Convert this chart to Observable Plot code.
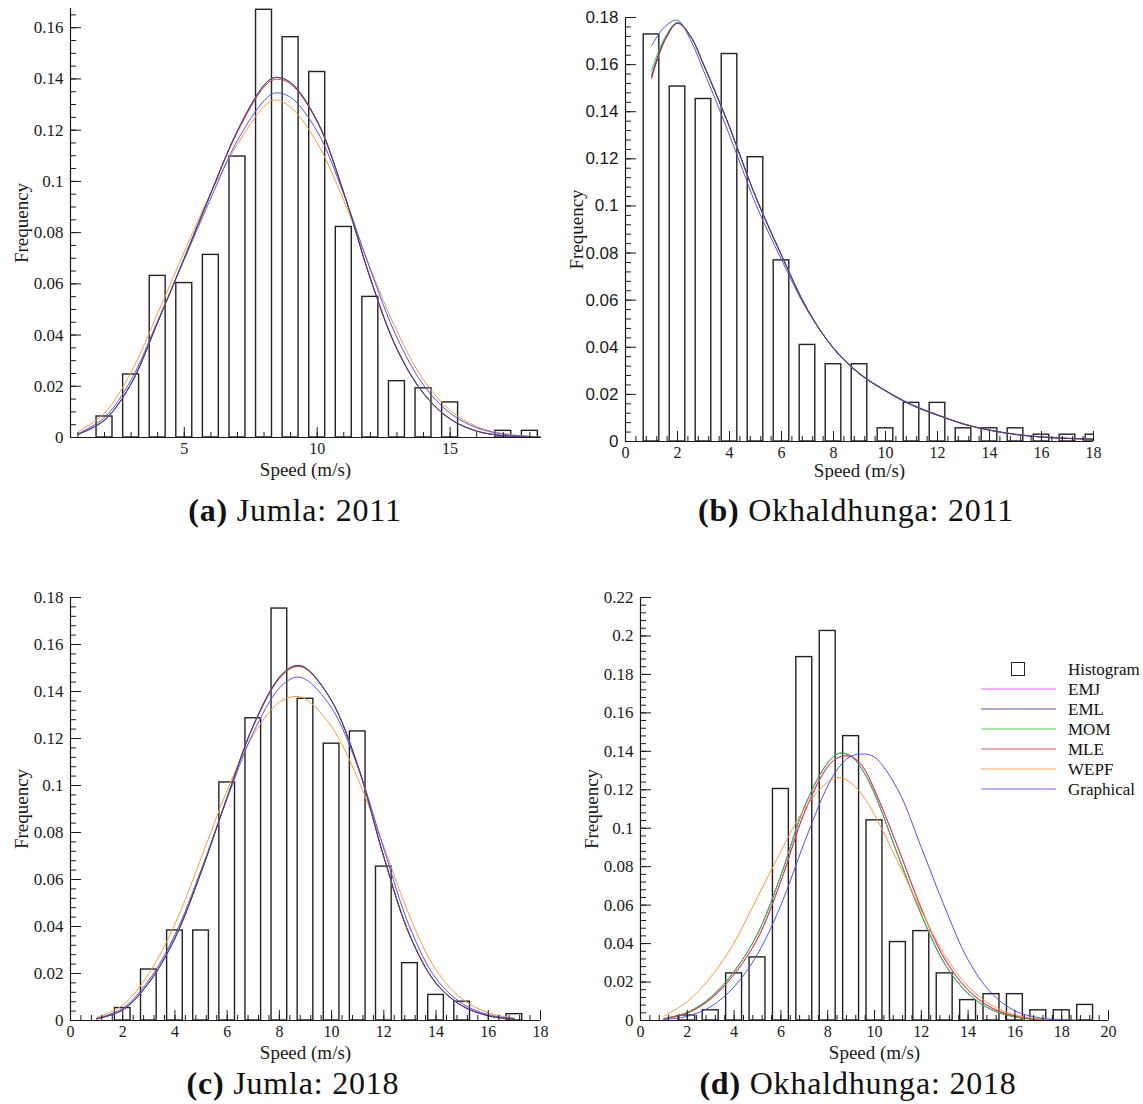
<!DOCTYPE html>
<html>
<head>
<meta charset="utf-8">
<script src="https://cdn.jsdelivr.net/npm/d3@7"></script>
<script src="https://cdn.jsdelivr.net/npm/@observablehq/plot@0.6"></script>
<style>
  html, body { margin: 0; padding: 0; background: #fff; }
  #fig { position: relative; width: 1143px; height: 1104px; overflow: hidden; font-family: "Liberation Serif", serif; color: #111; }
  .panel { position: absolute; }
  .cap { position: absolute; font-size: 32px; letter-spacing: 0.8px; white-space: nowrap; transform: translate(-50%, -50%); line-height: 1; }
  .leg { position: absolute; font-size: 17px; line-height: 1; white-space: nowrap; transform: translateY(-50%); }
  .legline { position: absolute; height: 1px; width: 75px; transform: translateY(-50%); opacity: 0.85; }
  .legbox { position: absolute; width: 12px; height: 12px; border: 1.5px solid #222; }
</style>
</head>
<body>
<div id="fig"></div>
<script>
// ---------- series / legend ----------
const methods = ["EMJ", "EML", "MOM", "MLE", "WEPF", "Graphical"];
const methodColors = ["#ff44ff", "#3c3c96", "#3ccc3c", "#e03a3a", "#ff9a3c", "#5050ff"];

// ---------- (a) Jumla: 2011 ----------
const aSpeed = [2, 3, 4, 5, 6, 7, 8, 9, 10, 11, 12, 13, 14, 15, 17, 18];
const aFreq = [0.0082, 0.0246, 0.0631, 0.0603, 0.0713, 0.1097, 0.1670, 0.1563, 0.1427, 0.0822, 0.0549, 0.0220, 0.0192, 0.0137, 0.0026, 0.0026];
const aCurveX = [1, 2, 3, 4, 5, 6, 7, 8, 8.4, 9, 10, 11, 12, 13, 14, 15, 16, 17, 18, 18.4];
const aEMJ = [0.0012, 0.0068, 0.0210, 0.0450, 0.0700, 0.0955, 0.1198, 0.1375, 0.1405, 0.1385, 0.1235, 0.0955, 0.0620, 0.0345, 0.0172, 0.0072, 0.0025, 0.0007, 0.0002, 0.0001];
const aEML = [0.0012, 0.0068, 0.0210, 0.0450, 0.0700, 0.0955, 0.1198, 0.1376, 0.1406, 0.1386, 0.1236, 0.0956, 0.0620, 0.0345, 0.0172, 0.0072, 0.0025, 0.0007, 0.0002, 0.0001];
const aMOM = [0.0012, 0.0068, 0.0210, 0.0450, 0.0700, 0.0955, 0.1198, 0.1375, 0.1405, 0.1385, 0.1235, 0.0955, 0.0620, 0.0345, 0.0172, 0.0072, 0.0025, 0.0007, 0.0002, 0.0001];
const aMLE = [0.0012, 0.0068, 0.0210, 0.0450, 0.0700, 0.0953, 0.1193, 0.1368, 0.1398, 0.1380, 0.1232, 0.0955, 0.0622, 0.0347, 0.0173, 0.0073, 0.0025, 0.0007, 0.0002, 0.0001];
const aWEPF = [0.0022, 0.0095, 0.0255, 0.0485, 0.0725, 0.0955, 0.1145, 0.1292, 0.1318, 0.1290, 0.1150, 0.0925, 0.0660, 0.0415, 0.0225, 0.0106, 0.0043, 0.0015, 0.0005, 0.0002];
const aGraphical = [0.0015, 0.0078, 0.0225, 0.0455, 0.0695, 0.0935, 0.1160, 0.1315, 0.1345, 0.1328, 0.1195, 0.0950, 0.0655, 0.0390, 0.0205, 0.0095, 0.0038, 0.0013, 0.0004, 0.0002];
const aXTicks = [5, 10, 15];
const aYTicks = [0, 0.02, 0.04, 0.06, 0.08, 0.1, 0.12, 0.14, 0.16];

// ---------- (b) Okhaldhunga: 2011 ----------
const bSpeed = [1, 2, 3, 4, 5, 6, 7, 8, 9, 10, 11, 12, 13, 14, 15, 16, 17, 18];
const bFreq = [0.1728, 0.1507, 0.1454, 0.1645, 0.1207, 0.0769, 0.0410, 0.0328, 0.0328, 0.0056, 0.0164, 0.0164, 0.0056, 0.0056, 0.0056, 0.0029, 0.0029, 0.0029];
const bCurveX = [1, 1.5, 2, 2.5, 3, 3.5, 4, 4.5, 5, 6, 7, 8, 9, 10, 11, 12, 13, 14, 15, 16, 17, 18];
const bEMJ = [0.1548, 0.1702, 0.1776, 0.1720, 0.1600, 0.1470, 0.1335, 0.1185, 0.1040, 0.0790, 0.0560, 0.0395, 0.0287, 0.0215, 0.0155, 0.0112, 0.0074, 0.0048, 0.0030, 0.0019, 0.0013, 0.0010];
const bEML = [0.1552, 0.1703, 0.1777, 0.1721, 0.1601, 0.1471, 0.1336, 0.1186, 0.1041, 0.0791, 0.0560, 0.0395, 0.0287, 0.0215, 0.0155, 0.0112, 0.0074, 0.0048, 0.0030, 0.0019, 0.0013, 0.0010];
const bMOM = [0.1575, 0.1712, 0.1779, 0.1722, 0.1603, 0.1472, 0.1337, 0.1188, 0.1042, 0.0792, 0.0561, 0.0396, 0.0288, 0.0215, 0.0155, 0.0112, 0.0074, 0.0048, 0.0030, 0.0019, 0.0013, 0.0010];
const bMLE = [0.1543, 0.1700, 0.1776, 0.1720, 0.1600, 0.1470, 0.1335, 0.1185, 0.1040, 0.0790, 0.0560, 0.0395, 0.0287, 0.0215, 0.0155, 0.0112, 0.0074, 0.0048, 0.0030, 0.0019, 0.0013, 0.0010];
const bWEPF = [0.1540, 0.1698, 0.1775, 0.1719, 0.1600, 0.1470, 0.1335, 0.1185, 0.1040, 0.0790, 0.0560, 0.0395, 0.0287, 0.0215, 0.0155, 0.0112, 0.0074, 0.0048, 0.0030, 0.0019, 0.0013, 0.0010];
const bGraphical = [0.1680, 0.1760, 0.1788, 0.1705, 0.1575, 0.1440, 0.1300, 0.1155, 0.1010, 0.0772, 0.0555, 0.0398, 0.0290, 0.0217, 0.0158, 0.0114, 0.0075, 0.0049, 0.0031, 0.0020, 0.0014, 0.0010];
const bXTicks = [0, 2, 4, 6, 8, 10, 12, 14, 16, 18];
const bYTicks = [0, 0.02, 0.04, 0.06, 0.08, 0.1, 0.12, 0.14, 0.16, 0.18];

// ---------- (c) Jumla: 2018 ----------
const cSpeed = [2, 3, 4, 5, 6, 7, 8, 9, 10, 11, 12, 13, 14, 15, 17];
const cFreq = [0.0053, 0.0217, 0.0383, 0.0383, 0.1013, 0.1286, 0.1753, 0.1369, 0.1178, 0.1230, 0.0655, 0.0244, 0.0109, 0.0080, 0.0027];
const cCurveX = [1, 2, 3, 4, 5, 6, 7, 8, 8.6, 9, 10, 11, 12, 13, 14, 15, 16, 17];
const cEMJ = [0.0007, 0.0045, 0.0160, 0.0350, 0.0630, 0.0950, 0.1255, 0.1460, 0.1509, 0.1500, 0.1360, 0.1085, 0.0695, 0.0360, 0.0158, 0.0062, 0.0020, 0.0005];
const cEML = [0.0007, 0.0045, 0.0160, 0.0350, 0.0630, 0.0950, 0.1255, 0.1461, 0.1510, 0.1501, 0.1361, 0.1085, 0.0695, 0.0360, 0.0158, 0.0062, 0.0020, 0.0005];
const cMOM = [0.0007, 0.0045, 0.0160, 0.0350, 0.0630, 0.0950, 0.1255, 0.1460, 0.1509, 0.1500, 0.1360, 0.1085, 0.0695, 0.0360, 0.0158, 0.0062, 0.0020, 0.0005];
const cMLE = [0.0007, 0.0046, 0.0162, 0.0352, 0.0632, 0.0950, 0.1252, 0.1455, 0.1505, 0.1497, 0.1360, 0.1087, 0.0698, 0.0362, 0.0160, 0.0063, 0.0020, 0.0005];
const cWEPF = [0.0013, 0.0065, 0.0200, 0.0410, 0.0690, 0.0980, 0.1215, 0.1355, 0.1379, 0.1368, 0.1250, 0.1030, 0.0740, 0.0440, 0.0215, 0.0092, 0.0033, 0.0010];
const cGraphical = [0.0009, 0.0052, 0.0172, 0.0365, 0.0640, 0.0945, 0.1225, 0.1415, 0.1460, 0.1452, 0.1330, 0.1080, 0.0730, 0.0395, 0.0178, 0.0072, 0.0025, 0.0008];
const cXTicks = [0, 2, 4, 6, 8, 10, 12, 14, 16, 18];
const cYTicks = [0, 0.02, 0.04, 0.06, 0.08, 0.1, 0.12, 0.14, 0.16, 0.18];

// ---------- (d) Okhaldhunga: 2018 ----------
const dSpeed = [2, 3, 4, 5, 6, 7, 8, 9, 10, 11, 12, 13, 14, 15, 16, 17, 18, 19];
const dFreq = [0.0026, 0.0053, 0.0245, 0.0328, 0.1204, 0.1890, 0.2026, 0.1479, 0.1041, 0.0408, 0.0465, 0.0245, 0.0106, 0.0137, 0.0137, 0.0053, 0.0053, 0.0081];
const dCurveX = [1, 2, 3, 4, 5, 6, 7, 8, 8.5, 9, 9.5, 10, 11, 12, 13, 14, 15, 16, 17, 18, 19];
const dEMJ = [0.0009, 0.0038, 0.0112, 0.0240, 0.0425, 0.0725, 0.1080, 0.1320, 0.1370, 0.1373, 0.1320, 0.1200, 0.0900, 0.0582, 0.0320, 0.0158, 0.0066, 0.0023, 0.0007, 0.0002, 0.0000];
const dEML = [0.0010, 0.0042, 0.0120, 0.0255, 0.0450, 0.0755, 0.1110, 0.1340, 0.1390, 0.1375, 0.1300, 0.1180, 0.0860, 0.0550, 0.0295, 0.0140, 0.0056, 0.0019, 0.0005, 0.0001, 0.0000];
const dMOM = [0.0010, 0.0042, 0.0120, 0.0255, 0.0450, 0.0755, 0.1110, 0.1340, 0.1390, 0.1375, 0.1300, 0.1180, 0.0860, 0.0550, 0.0295, 0.0140, 0.0056, 0.0019, 0.0005, 0.0001, 0.0000];
const dMLE = [0.0009, 0.0038, 0.0112, 0.0240, 0.0425, 0.0725, 0.1080, 0.1320, 0.1370, 0.1373, 0.1320, 0.1200, 0.0900, 0.0582, 0.0320, 0.0158, 0.0066, 0.0023, 0.0007, 0.0002, 0.0000];
const dWEPF = [0.0022, 0.0098, 0.0225, 0.0405, 0.0640, 0.0880, 0.1100, 0.1240, 0.1264, 0.1235, 0.1170, 0.1070, 0.0825, 0.0570, 0.0340, 0.0178, 0.0080, 0.0029, 0.0009, 0.0002, 0.0000];
const dGraphical = [0.0005, 0.0022, 0.0072, 0.0175, 0.0345, 0.0600, 0.0925, 0.1220, 0.1320, 0.1375, 0.1386, 0.1370, 0.1200, 0.0900, 0.0590, 0.0315, 0.0142, 0.0050, 0.0015, 0.0003, 0.0000];
const dXTicks = [0, 2, 4, 6, 8, 10, 12, 14, 16, 18, 20];
const dYTicks = [0, 0.02, 0.04, 0.06, 0.08, 0.1, 0.12, 0.14, 0.16, 0.18, 0.2, 0.22];

const captions = [
  ["(a)", "Jumla: 2011"],
  ["(b)", "Okhaldhunga: 2011"],
  ["(c)", "Jumla: 2018"],
  ["(d)", "Okhaldhunga: 2018"]
];
const xLabel = "Speed (m/s)";
const yLabel = "Frequency";
const histLabel = "Histogram";

// draw order of the fitted curves (indices into methods)
const orderTop = [0, 4, 5, 2, 3, 1];
const orderD = [0, 1, 2, 3, 4, 5];

// ---------- layout ----------
const panels = [
  {left: 0, top: 0, width: 560, height: 480, ml: 70, mr: 20, mt: 8, mb: 43,
   xDomain: [0.72, 18.4], yDomain: [0, 0.1675], xMinor: d3.range(1, 18.01, 1), yMinorStep: 0.005,
   xTicks: aXTicks, yTicks: aYTicks, speed: aSpeed, freq: aFreq, bw: 0.6, order: orderTop,
   curveX: aCurveX, curves: [aEMJ, aEML, aMOM, aMLE, aWEPF, aGraphical], xlDy: 32, yFont: "Liberation Serif",
   cap: captions[0], capX: 295, capY: 510},
  {left: 560, top: 0, width: 583, height: 480, ml: 65, mr: 50, mt: 17, mb: 39,
   xDomain: [0, 18], yDomain: [0, 0.18], xMinor: d3.range(0, 18.01, 0.4), yMinorStep: 0.004,
   xTicks: bXTicks, yTicks: bYTicks, speed: bSpeed, freq: bFreq, bw: 0.6, order: orderTop,
   curveX: bCurveX, curves: [bEMJ, bEML, bMOM, bMLE, bWEPF, bGraphical], xlDy: 29, yFont: "Liberation Sans",
   cap: captions[1], capX: 856, capY: 510},
  {left: 0, top: 540, width: 580, height: 530, ml: 70, mr: 40, mt: 57, mb: 50,
   xDomain: [0, 18], yDomain: [0, 0.18], xMinor: d3.range(0, 18.01, 0.4), yMinorStep: 0.004,
   xTicks: cXTicks, yTicks: cYTicks, speed: cSpeed, freq: cFreq, bw: 0.6, order: orderTop,
   curveX: cCurveX, curves: [cEMJ, cEML, cMOM, cMLE, cWEPF, cGraphical], xlDy: 32, yFont: "Liberation Serif",
   cap: captions[2], capX: 293, capY: 1083},
  {left: 570, top: 540, width: 573, height: 530, ml: 70, mr: 35, mt: 57, mb: 50,
   xDomain: [0, 20], yDomain: [0, 0.22], xMinor: d3.range(0, 20.01, 0.4), yMinorStep: 0.004,
   xTicks: dXTicks, yTicks: dYTicks, speed: dSpeed, freq: dFreq, bw: 0.68, order: orderD,
   curveX: dCurveX, curves: [dEMJ, dEML, dMOM, dMLE, dWEPF, dGraphical], xlDy: 32, yFont: "Liberation Serif",
   cap: captions[3], capX: 858, capY: 1083}
];

const fig = document.getElementById("fig");
const ink = "#1a1a1a";

for (const p of panels) {
  const fw = p.width - p.ml - p.mr;
  const fh = p.height - p.mt - p.mb;
  const bars = p.speed.map((s, i) => ({x: s, y: p.freq[i]}));
  const yMinor = d3.range(0, p.yDomain[1] + 1e-9, p.yMinorStep);
  const lines = p.order.map(j =>
    Plot.line(p.curveX.map((x, i) => ({x, y: p.curves[j][i]})),
      {x: "x", y: "y", stroke: methodColors[j], strokeWidth: 1, curve: "catmull-rom"}));
  const chart = Plot.plot({
    width: p.width, height: p.height,
    marginLeft: p.ml, marginRight: p.mr, marginTop: p.mt, marginBottom: p.mb,
    style: {fontFamily: "Liberation Serif", fontSize: "16px", color: ink, background: "transparent"},
    x: {domain: p.xDomain},
    y: {domain: p.yDomain},
    marks: [
      Plot.rect(bars, {x1: d => d.x - p.bw / 2, x2: d => d.x + p.bw / 2, y1: 0, y2: "y",
        fill: "none", stroke: "#222", strokeWidth: 1.4, clip: true}),
      ...lines,
      Plot.tickY(yMinor, {y: d => d, insetRight: fw - 6, stroke: ink, strokeWidth: 1}),
      Plot.tickY(p.yTicks, {y: d => d, insetRight: fw - 11, stroke: ink, strokeWidth: 1}),
      Plot.tickX(p.xMinor, {x: d => d, insetTop: fh - 5, stroke: ink, strokeWidth: 1}),
      Plot.tickX(p.xTicks, {x: d => d, insetTop: fh - 10, stroke: ink, strokeWidth: 1}),
      Plot.ruleX([p.xDomain[0]], {stroke: ink, strokeWidth: 1.2}),
      Plot.ruleY([0], {stroke: ink, strokeWidth: 1.2}),
      Plot.axisY({ticks: p.yTicks, tickSize: 0, tickPadding: 7, tickFormat: d => String(d), label: null, fontFamily: p.yFont, fontSize: 17}),
      Plot.axisX({ticks: p.xTicks, tickSize: 0, tickPadding: 5, tickFormat: d => String(d), label: null, fontSize: 16}),
      Plot.text([xLabel], {frameAnchor: "bottom", dy: p.xlDy, lineAnchor: "middle", textAnchor: "middle", text: d => d, fontSize: 19}),
      Plot.text([yLabel], {frameAnchor: "left", dx: -49, rotate: -90, textAnchor: "middle", lineAnchor: "middle", text: d => d, fontSize: 19})
    ]
  });
  chart.classList.add("panel");
  chart.style.left = p.left + "px";
  chart.style.top = p.top + "px";
  fig.appendChild(chart);

  const cap = document.createElement("div");
  cap.className = "cap";
  cap.style.left = p.capX + "px";
  cap.style.top = p.capY + "px";
  const b = document.createElement("b");
  b.textContent = p.cap[0];
  cap.appendChild(b);
  cap.appendChild(document.createTextNode(" " + p.cap[1]));
  fig.appendChild(cap);
}

// ---------- legend (panel d) ----------
const legX = 981, legTextX = 1068, legY0 = 669, legStep = 20;
const box = document.createElement("div");
box.className = "legbox";
box.style.left = "1011px";
box.style.top = (legY0 - 7) + "px";
fig.appendChild(box);
const ht = document.createElement("div");
ht.className = "leg";
ht.style.left = legTextX + "px";
ht.style.top = legY0 + "px";
ht.textContent = histLabel;
fig.appendChild(ht);
methods.forEach((m, i) => {
  const y = legY0 + legStep * (i + 1);
  const ln = document.createElement("div");
  ln.className = "legline";
  ln.style.left = legX + "px";
  ln.style.top = y + "px";
  ln.style.backgroundColor = methodColors[i];
  fig.appendChild(ln);
  const t = document.createElement("div");
  t.className = "leg";
  t.style.left = legTextX + "px";
  t.style.top = y + "px";
  t.textContent = m;
  fig.appendChild(t);
});
</script>
</body>
</html>
